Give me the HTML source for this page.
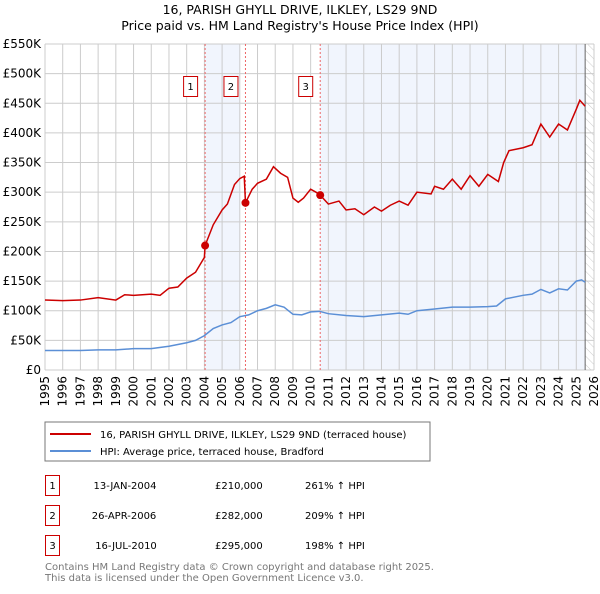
<!DOCTYPE html>
<html><head><meta charset="utf-8"><style>
body{margin:0;background:#fff;font-family:"DejaVu Sans","Liberation Sans",sans-serif;}
svg text{font-family:"DejaVu Sans","Liberation Sans",sans-serif;}
</style></head><body>
<svg id="c" width="600" height="590" xmlns="http://www.w3.org/2000/svg">
<defs><pattern id="hatch" width="6" height="6" patternUnits="userSpaceOnUse" patternTransform="rotate(-45)"><line x1="0" y1="0" x2="0" y2="6" stroke="#ccc" stroke-width="1"/></pattern></defs>
<text x="300" y="14" text-anchor="middle" font-size="12.5">16, PARISH GHYLL DRIVE, ILKLEY, LS29 9ND</text>
<text x="300" y="30" text-anchor="middle" font-size="12.5">Price paid vs. HM Land Registry's House Price Index (HPI)</text>
<g id="plot"></g>
<rect x="45" y="422" width="385" height="39" fill="#fff" stroke="#777"/>
<line x1="50" y1="434" x2="91" y2="434" stroke="#cc0000" stroke-width="2"/>
<text x="100" y="438" font-size="10">16, PARISH GHYLL DRIVE, ILKLEY, LS29 9ND (terraced house)</text>
<line x1="50" y1="451" x2="91" y2="451" stroke="#5b8fd6" stroke-width="2"/>
<text x="100" y="455" font-size="10">HPI: Average price, terraced house, Bradford</text>
<g font-size="10">
<rect x="45.5" y="475.5" width="14" height="20" fill="#fff" stroke="#cc0000"/><text x="52.5" y="489" text-anchor="middle">1</text>
<text x="125" y="489" text-anchor="middle">13-JAN-2004</text><text x="215" y="489">£210,000</text><text x="305" y="489">261% ↑ HPI</text>
<rect x="45.5" y="505.5" width="14" height="20" fill="#fff" stroke="#cc0000"/><text x="52.5" y="519" text-anchor="middle">2</text>
<text x="124" y="519" text-anchor="middle">26-APR-2006</text><text x="215" y="519">£282,000</text><text x="305" y="519">209% ↑ HPI</text>
<rect x="45.5" y="535.5" width="14" height="20" fill="#fff" stroke="#cc0000"/><text x="52.5" y="549" text-anchor="middle">3</text>
<text x="126" y="549" text-anchor="middle">16-JUL-2010</text><text x="215" y="549">£295,000</text><text x="305" y="549">198% ↑ HPI</text>
</g>
<text x="45" y="570" font-size="10" fill="#777">Contains HM Land Registry data © Crown copyright and database right 2025.</text>
<text x="45" y="581" font-size="10" fill="#777">This data is licensed under the Open Government Licence v3.0.</text>
</svg>
<script>
const yTicks=[0,50,100,150,200,250,300,350,400,450,500,550];
const yTickLabels=["£0","£50K","£100K","£150K","£200K","£250K","£300K","£350K","£400K","£450K","£500K","£550K"];
const xYears=[1995,1996,1997,1998,1999,2000,2001,2002,2003,2004,2005,2006,2007,2008,2009,2010,2011,2012,2013,2014,2015,2016,2017,2018,2019,2020,2021,2022,2023,2024,2025,2026];
const hpiT=[1995,1996,1997,1998,1999,2000,2001,2002,2003,2003.5,2004,2004.5,2005,2005.5,2006,2006.5,2007,2007.5,2008,2008.5,2009,2009.5,2010,2010.5,2011,2012,2013,2014,2015,2015.5,2016,2017,2018,2019,2020,2020.5,2021,2022,2022.5,2023,2023.5,2024,2024.5,2025,2025.3,2025.5];
const hpiV=[33,33,33,34,34,36,36,40,46,50,58,70,76,80,90,93,100,104,110,106,94,93,98,99,95,92,90,93,96,94,100,103,106,106,107,108,120,126,128,136,130,137,135,150,152,148];
const propT=[1995,1996,1997,1998,1999,1999.5,2000,2001,2001.5,2002,2002.5,2003,2003.5,2004,2004.04,2004.5,2005,2005.3,2005.7,2006,2006.25,2006.32,2006.7,2007,2007.5,2007.9,2008.3,2008.7,2009,2009.3,2009.6,2010,2010.3,2010.54,2011,2011.6,2012,2012.5,2013,2013.6,2014,2014.5,2015,2015.5,2016,2016.8,2017,2017.5,2018,2018.5,2019,2019.5,2020,2020.6,2020.9,2021.2,2022,2022.5,2023,2023.5,2024,2024.5,2025,2025.2,2025.5];
const propV=[118,117,118,122,118,127,126,128,126,138,140,155,165,190,210,245,270,280,313,323,327,282,305,315,322,343,332,325,290,283,290,305,300,295,280,285,270,272,262,275,268,278,285,278,300,297,310,305,322,305,328,310,330,318,350,370,375,380,415,393,415,405,440,455,445];
const saleT=[2004.04,2006.32,2010.54];
const saleV=[210,282,295];
const saleLabels=["1","2","3"];
const X0=45,X1=594,Y0=370,Y1=44;
const xs=t=>X0+(t-1995)*(X1-X0)/31;
const ys=v=>Y0-v*(Y0-Y1)/550;
const NS="http://www.w3.org/2000/svg";
const g=document.getElementById('plot');
function mk(tag,attrs,parent){const e=document.createElementNS(NS,tag);for(const k in attrs)e.setAttribute(k,attrs[k]);(parent||g).appendChild(e);return e;}
let e;
e=mk('rect',{x:X0,y:Y1,width:X1-X0,height:Y0-Y1,fill:'#fff'});


e=mk('rect',{x:xs(saleT[0]),y:Y1,width:xs(2006)-xs(saleT[0]),height:Y0-Y1,fill:'#eef3fc',opacity:0.8});


e=mk('rect',{x:xs(saleT[2]),y:Y1,width:xs(2025.5)-xs(saleT[2]),height:Y0-Y1,fill:'#eef3fc',opacity:0.8});


e=mk('rect',{x:xs(2025.5),y:Y1,width:X1-xs(2025.5),height:Y0-Y1,fill:'url(#hatch)'});


xYears.forEach(y=>{
  e=mk('line',{x1:xs(y),x2:xs(y),y1:Y1,y2:Y0,stroke:'#ccc','stroke-width':1});
  
  
  e=mk('text',{x:0,y:0,'font-size':12,'text-anchor':'end',transform:`translate(${xs(y)+4},${Y0+6}) rotate(-90)`});
  e.textContent=y;
  
  
});
yTicks.forEach((v,i)=>{
  e=mk('line',{x1:X0,x2:X1,y1:ys(v),y2:ys(v),stroke:'#ccc','stroke-width':1});
  
  
  e=mk('text',{x:X0-4,y:ys(v)+4,'font-size':12,'text-anchor':'end'});
  e.textContent=yTickLabels[i];
  
  
});
e=mk('line',{x1:xs(2025.5),x2:xs(2025.5),y1:Y1,y2:Y0,stroke:'#666','stroke-width':1});


saleT.forEach((t,i)=>{
  e=mk('line',{x1:xs(t),x2:xs(t),y1:Y1,y2:Y0,stroke:'#e66','stroke-width':1,'stroke-dasharray':'2,2'});
  
  
  e=mk('rect',{x:xs(t)-21.5,y:76.5,width:14,height:20,fill:'#fff',stroke:'#cc0000'});
  
  
  e=mk('text',{x:xs(t)-14.5,y:90,'font-size':10,'text-anchor':'middle'});
  e.textContent=saleLabels[i];
  
  
});
e=mk('polyline',{points:hpiT.map((t,i)=>xs(t)+','+ys(hpiV[i])).join(' '),fill:'none',stroke:'#5b8fd6','stroke-width':1.5});


e=mk('polyline',{points:propT.map((t,i)=>xs(t)+','+ys(propV[i])).join(' '),fill:'none',stroke:'#cc0000','stroke-width':1.5});


saleT.forEach((t,i)=>{
  e=mk('circle',{cx:xs(t),cy:ys(saleV[i]),r:4,fill:'#cc0000'});
  
  
});
</script>
</body></html>
